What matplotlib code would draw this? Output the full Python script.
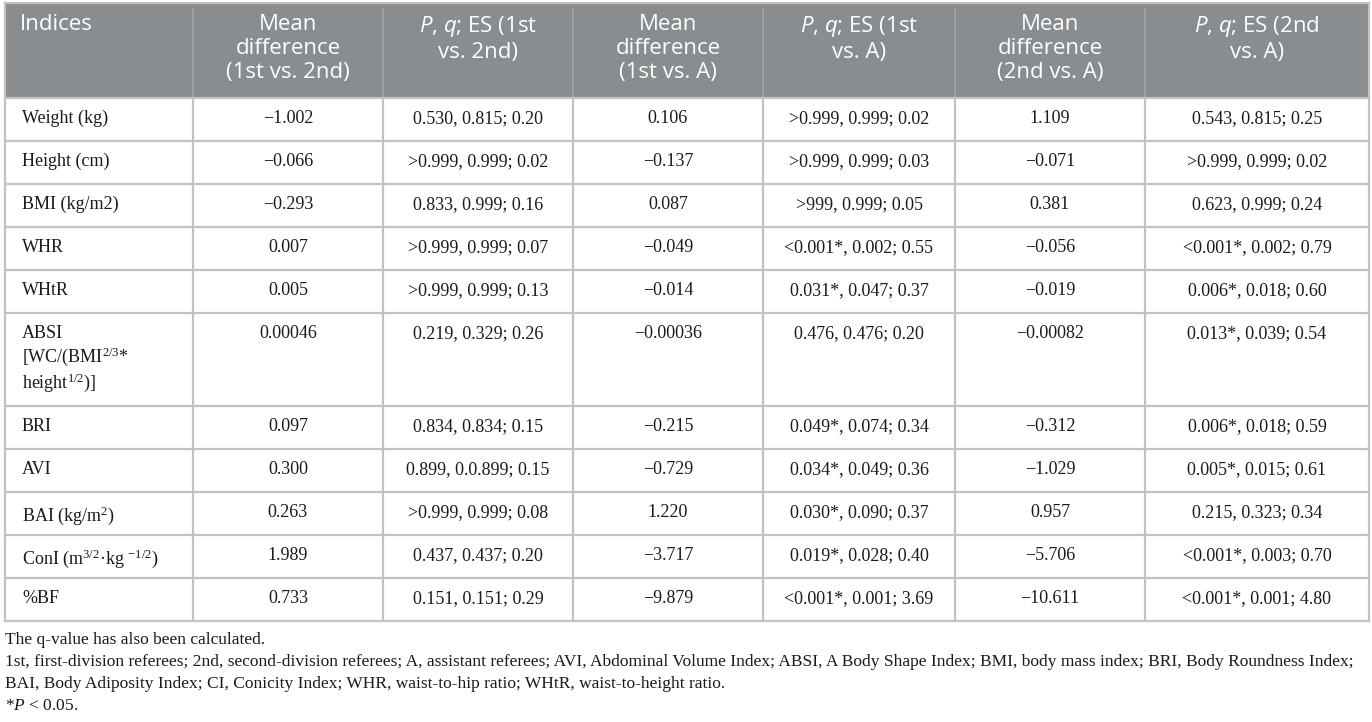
import matplotlib
matplotlib.use('Agg')
import matplotlib.pyplot as plt
from matplotlib.patches import Rectangle

# mathtext: regular text font for superscripts, sf slot used for sans italic in header
plt.rcParams['mathtext.fontset'] = 'custom'
plt.rcParams['mathtext.default'] = 'regular'
plt.rcParams['mathtext.it'] = 'Liberation Serif:italic'
plt.rcParams['mathtext.sf'] = 'Open Sans:italic'

# ---------------- data ----------------
headers = ['Indices',
           'Mean\ndifference\n(1st vs. 2nd)',
           '$\\mathsf{P}$, $\\mathsf{q}$; ES (1st\nvs. 2nd)',
           'Mean\ndifference\n(1st vs. A)',
           '$\\mathsf{P}$, $\\mathsf{q}$; ES (1st\nvs. A)',
           'Mean\ndifference\n(2nd vs. A)',
           '$\\mathsf{P}$, $\\mathsf{q}$; ES (2nd\nvs. A)']

indices = ['Weight (kg)', 'Height (cm)', 'BMI (kg/m2)', 'WHR', 'WHtR',
           'ABSI\n[WC/(BMI$^{2/3}$*\nheight$^{1/2}$)]',
           'BRI', 'AVI', 'BAI (kg/m$^{2}$)',
           'ConI (m$^{3/2}$\u00b7kg $^{\u22121/2}$)', '%BF']

mean_1v2 = ['\u22121.002', '\u22120.066', '\u22120.293', '0.007', '0.005', '0.00046',
            '0.097', '0.300', '0.263', '1.989', '0.733']
p_1v2 = ['0.530, 0.815; 0.20', '>0.999, 0.999; 0.02', '0.833, 0.999; 0.16',
         '>0.999, 0.999; 0.07', '>0.999, 0.999; 0.13', '0.219, 0.329; 0.26',
         '0.834, 0.834; 0.15', '0.899, 0.0.899; 0.15', '>0.999, 0.999; 0.08',
         '0.437, 0.437; 0.20', '0.151, 0.151; 0.29']
mean_1vA = ['0.106', '\u22120.137', '0.087', '\u22120.049', '\u22120.014', '\u22120.00036',
            '\u22120.215', '\u22120.729', '1.220', '\u22123.717', '\u22129.879']
p_1vA = ['>0.999, 0.999; 0.02', '>0.999, 0.999; 0.03', '>999, 0.999; 0.05',
         '<0.001*, 0.002; 0.55', '0.031*, 0.047; 0.37', '0.476, 0.476; 0.20',
         '0.049*, 0.074; 0.34', '0.034*, 0.049; 0.36', '0.030*, 0.090; 0.37',
         '0.019*, 0.028; 0.40', '<0.001*, 0.001; 3.69']
mean_2vA = ['1.109', '\u22120.071', '0.381', '\u22120.056', '\u22120.019', '\u22120.00082',
            '\u22120.312', '\u22121.029', '0.957', '\u22125.706', '\u221210.611']
p_2vA = ['0.543, 0.815; 0.25', '>0.999, 0.999; 0.02', '0.623, 0.999; 0.24',
         '<0.001*, 0.002; 0.79', '0.006*, 0.018; 0.60', '0.013*, 0.039; 0.54',
         '0.006*, 0.018; 0.59', '0.005*, 0.015; 0.61', '0.215, 0.323; 0.34',
         '<0.001*, 0.003; 0.70', '<0.001*, 0.001; 4.80']

footnotes = ['The q-value has also been calculated.',
             '1st, first-division referees; 2nd, second-division referees; A, assistant referees; '
             'AVI, Abdominal Volume Index; ABSI, A Body Shape Index; BMI, body mass index; BRI, Body Roundness Index;',
             'BAI, Body Adiposity Index; CI, Conicity Index; WHR, waist-to-hip ratio; WHtR, waist-to-height ratio.',
             '*$\\mathit{P}$ < 0.05.']

columns = [indices, mean_1v2, p_1v2, mean_1vA, p_1vA, mean_2vA, p_2vA]

# ---------------- layout (pixels) ----------------
x_edges = [5, 193, 383, 573, 763, 955, 1145, 1369]
header_top, header_bot = 3, 98
row_h = 43
row_lines = [1, 1, 1, 1, 1, 3, 1, 1, 1, 1, 1]   # ABSI spans 3 lines
y_edges = [header_bot]
for n in row_lines:
    y_edges.append(y_edges[-1] + (row_h if n == 1 else 93))

header_col = '#898d90'
grid_col = '#c0c2c3'
serif = 'Liberation Serif'
sans = 'Open Sans'

fig = plt.figure(figsize=(13.72, 7.22), dpi=100)
ax = fig.add_axes([0, 0, 1, 1])
ax.set_xlim(0, 1372)
ax.set_ylim(722, 0)
ax.axis('off')

# header band
ax.add_patch(Rectangle((x_edges[0], header_top), x_edges[-1] - x_edges[0],
                       header_bot - header_top, color=header_col, lw=0))
for x in x_edges[1:-1]:
    ax.plot([x, x], [header_top + 6, header_bot], color='#a2a6a8', lw=1.2)

hdr_kw = dict(family=sans, fontsize=16, color='white', linespacing=1.2, va='top')
for j, h in enumerate(headers):
    if j == 0:
        ax.text(x_edges[0] + 15, header_top + 11, h, ha='left', **hdr_kw)
    else:
        xc = (x_edges[j] + x_edges[j + 1]) / 2
        ax.text(xc, header_top + 11, h, ha='center', multialignment='center', **hdr_kw)

# grid lines of body
for y in y_edges:
    ax.plot([x_edges[0], x_edges[-1]], [y, y], color=grid_col, lw=1.6)
for x in x_edges:
    ax.plot([x, x], [header_bot, y_edges[-1]], color=grid_col, lw=1.6)
ax.plot([x_edges[0], x_edges[-1]], [header_top, header_top], color=grid_col, lw=1.6)
ax.plot([x_edges[0], x_edges[0]], [header_top, header_bot], color=grid_col, lw=1.6)
ax.plot([x_edges[-1], x_edges[-1]], [header_top, header_bot], color=grid_col, lw=1.6)

# body text
for j, col in enumerate(columns):
    for i, val in enumerate(col):
        ytop = y_edges[i] + 12
        if j == 0:
            ax.text(x_edges[0] + 17, ytop, val, ha='left', va='top', family=serif,
                    fontsize=13, color='#1a1a1a', linespacing=1.2)
        else:
            xc = (x_edges[j] + x_edges[j + 1]) / 2
            ax.text(xc, ytop, val, ha='center', va='top', family=serif,
                    fontsize=13, color='#1a1a1a')

# footnotes
for k, line in enumerate(footnotes):
    ax.text(x_edges[0], y_edges[-1] + 19 + 22 * k, line, ha='left', va='center',
            family=serif, fontsize=12.5, color='#1a1a1a')

fig.savefig('out.png', dpi=100)
